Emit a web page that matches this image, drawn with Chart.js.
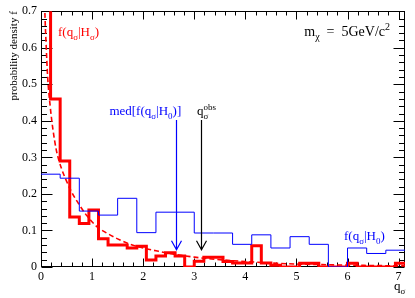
<!DOCTYPE html>
<html><head><meta charset="utf-8">
<script src="https://cdn.jsdelivr.net/npm/chart.js@4/dist/chart.umd.min.js"></script>
<style>html,body{margin:0;padding:0;background:#fff;}#wrap{width:415px;height:298px;position:relative;}</style>
</head><body><div id="wrap"><canvas id="c" width="415" height="298"></canvas></div>
<script>
// ---- data ----
const redBinWidth = 0.1875;
const redValues = [0.95, 0.46, 0.29, 0.137, 0.119, 0.156, 0.077, 0.060, 0.060, 0.052,
  0.057, 0.019, 0.030, 0.039, 0.030, 0.000, 0.016, 0.027, 0.027, 0.015,
  0.011, 0.011, 0.058, 0.011, 0.005, 0.000, 0.000, 0.010, 0.010, 0.000,
  0.000, 0.000, 0.010, 0.000, 0.000, 0.000, 0.000, 0.010];
const blueBinWidth = 0.375;
const blueValues = [0.254, 0.243, 0.153, 0.142, 0.188, 0.094, 0.150, 0.150, 0.093, 0.093,
  0.062, 0.088, 0.052, 0.083, 0.062, 0.000, 0.052, 0.037, 0.046];
const curveQ = [0.04, 0.06, 0.08, 0.10, 0.13, 0.18, 0.23, 0.30, 0.40, 0.50, 0.60, 0.75, 0.90,
  1.10, 1.30, 1.50, 1.75, 2.00, 2.30, 2.60, 3.00, 3.50, 4.00, 4.50, 5.00, 5.50, 6.00, 6.50, 7.125];
const curveF = [0.98, 0.79, 0.68, 0.61, 0.52, 0.44, 0.38, 0.32, 0.27, 0.235, 0.205, 0.17, 0.14,
  0.11, 0.092, 0.077, 0.062, 0.052, 0.043, 0.035, 0.027, 0.020, 0.015, 0.011, 0.008, 0.0065, 0.005, 0.004, 0.003];
const medianQ = 2.65;      // med[f(q|H0)]
const observedQ = 3.13;    // q_obs
const arrowFrom = 0.402;
const arrowTo = 0.047;
const xMax = 7.125, yMax = 0.7;
const xMajor = 1, xMinor = 0.2, yMajor = 0.1, yMinor = 0.02;

function histPoints(vals, w) {
  const pts = vals.map((v, i) => ({x: i * w, y: v}));
  pts.push({x: vals.length * w, y: vals[vals.length - 1]});
  return pts;
}

const FONT = '"Liberation Serif", "Times New Roman", serif';

function rich(ctx, x, y, parts, color, size, align) {
  const sub = Math.round(size * 0.7);
  // parts: [text, mode]  mode 0 normal, 1 sub, 2 sup, 3 sup stacked over previous sub
  let w = 0, last = 0;
  parts.forEach(([t, m]) => {
    ctx.font = (m ? sub : size) + 'px ' + FONT;
    const tw = ctx.measureText(t).width;
    if (m === 3) { w += Math.max(0, tw - last); } else { w += tw; }
    last = tw;
  });
  let cx = align === 'right' ? x - w : x;
  ctx.fillStyle = color; ctx.textAlign = 'left'; ctx.textBaseline = 'alphabetic';
  let prevX = cx, prevW = 0;
  parts.forEach(([t, m]) => {
    ctx.font = (m ? sub : size) + 'px ' + FONT;
    const tw = ctx.measureText(t).width;
    if (m === 3) {
      ctx.fillText(t, prevX, y - size * 0.42);
      cx = prevX + Math.max(prevW, tw);
    } else {
      const dy = m === 1 ? size * 0.3 : (m === 2 ? -size * 0.42 : 0);
      ctx.fillText(t, cx, y + dy);
      prevX = cx; prevW = tw;
      cx += tw;
    }
  });
}

const frameTicks = {
  id: 'frameTicks',
  beforeDatasetsDraw(chart) {
    const {ctx, chartArea: a, scales: {x, y}} = chart;
    ctx.save();
    ctx.strokeStyle = '#000'; ctx.lineWidth = 1;
    const L = Math.round(a.left) + 0.5, R = Math.round(a.right) - 0.5;
    const T = Math.round(a.top) + 0.5, B = Math.round(a.bottom) - 0.5;
    ctx.strokeRect(L, T, R - L, B - T);
    ctx.beginPath();
    const ny = Math.round(yMax / yMinor);
    for (let k = 0; k <= ny; k++) {
      const v = k * yMinor;
      const py = Math.round(y.getPixelForValue(v)) + 0.5;
      const len = (k % Math.round(yMajor / yMinor) === 0) ? 11 : 5.5;
      ctx.moveTo(L, py); ctx.lineTo(L + len, py);
      ctx.moveTo(R, py); ctx.lineTo(R - len, py);
    }
    const nx = Math.floor(xMax / xMinor + 1e-9);
    for (let k = 0; k <= nx; k++) {
      const v = k * xMinor;
      const px = Math.round(x.getPixelForValue(v)) + 0.5;
      const len = (k % Math.round(xMajor / xMinor) === 0) ? 8 : 4;
      ctx.moveTo(px, B); ctx.lineTo(px, B - len);
      ctx.moveTo(px, T); ctx.lineTo(px, T + len);
    }
    ctx.stroke();
    ctx.restore();
  },
  afterDatasetsDraw(chart) {
    const {ctx, chartArea: a, scales: {x, y}} = chart;
    ctx.save();
    // arrows
    [[medianQ, '#0000ff'], [observedQ, '#000000']].forEach(([q, col]) => {
      const px = Math.round(x.getPixelForValue(q)) + 0.5;
      const y0 = y.getPixelForValue(arrowFrom), y1 = y.getPixelForValue(arrowTo);
      ctx.strokeStyle = col; ctx.lineWidth = 1.2;
      ctx.beginPath();
      ctx.moveTo(px, y0); ctx.lineTo(px, y1);
      ctx.moveTo(px - 5, y1 - 9); ctx.lineTo(px, y1); ctx.lineTo(px + 5, y1 - 9);
      ctx.stroke();
    });
    // labels
    rich(ctx, a.left + 17, a.top + 25, [['f(q', 0], ['σ', 1], ['|H', 0], ['σ', 1], [')', 0]], '#ff0000', 13);
    rich(ctx, a.right - 15, a.top + 25, [['m', 0], ['χ', 1], ['  =  5GeV/c', 0], ['2', 2]], '#000000', 14, 'right');
    rich(ctx, x.getPixelForValue(medianQ) - 67, a.top + 104, [['med[f(q', 0], ['σ', 1], ['|H', 0], ['0', 1], [')]', 0]], '#0000ff', 13);
    rich(ctx, x.getPixelForValue(observedQ) - 4, a.top + 104, [['q', 0], ['σ', 1], ['obs', 3]], '#000000', 13);
    rich(ctx, a.right - 61, a.bottom - 27, [['f(q', 0], ['σ', 1], ['|H', 0], ['0', 1], [')', 0]], '#0000ff', 13);
    // x axis title
    rich(ctx, a.right - 11, a.bottom + 23, [['q', 0], ['σ', 1]], '#000000', 13);
    ctx.restore();
  }
};

new Chart(document.getElementById('c'), {
  type: 'line',
  data: {
    datasets: [
      {data: histPoints(blueValues, blueBinWidth), stepped: 'before', borderColor: '#0000ff', borderWidth: 1, pointRadius: 0, fill: false},
      {data: curveQ.map((q, i) => ({x: q, y: curveF[i]})), borderColor: '#ff0000', borderWidth: 1.6, borderDash: [5, 3], pointRadius: 0, fill: false, cubicInterpolationMode: 'monotone'},
      {data: histPoints(redValues, redBinWidth), stepped: 'before', borderColor: '#ff0000', borderWidth: 3, pointRadius: 0, fill: false}
    ]
  },
  options: {
    responsive: false, animation: false, devicePixelRatio: 1,
    layout: {padding: {top: 7, right: 10, left: 0, bottom: 0}},
    plugins: {legend: {display: false}, tooltip: {enabled: false}},
    scales: {
      x: {
        type: 'linear', min: 0, max: xMax,
        grid: {display: false, drawTicks: false}, border: {display: false},
        ticks: {stepSize: xMajor, includeBounds: false, autoSkip: false, maxRotation: 0, padding: 3,
          color: '#000', font: {family: FONT, size: 12}},
        afterFit: s => { s.height = 31; }
      },
      y: {
        type: 'linear', min: 0, max: yMax,
        grid: {display: false, drawTicks: false}, border: {display: false},
        ticks: {stepSize: yMajor, padding: 4, color: '#000', font: {family: FONT, size: 12},
          callback: v => String(Number(v.toFixed(1)))},
        title: {display: true, text: 'probability density f', align: 'end', color: '#000',
          font: {family: FONT, size: 11}, padding: {top: 8, bottom: 0}},
        afterFit: s => { s.width = 41; }
      }
    }
  },
  plugins: [frameTicks]
});
</script>
</body></html>
